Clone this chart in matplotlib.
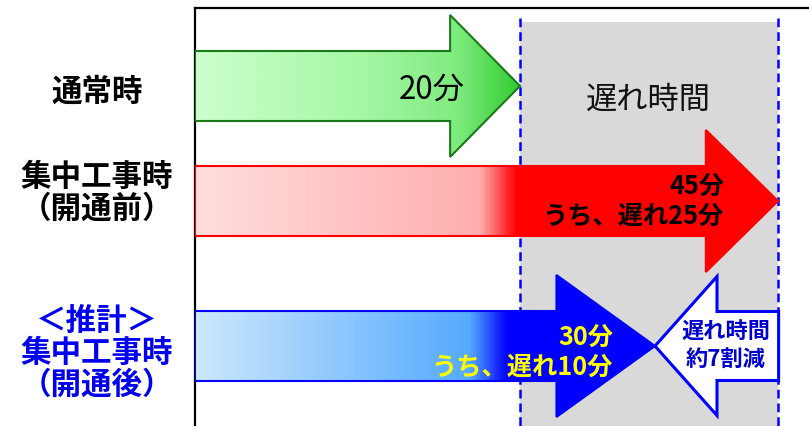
import numpy as np
import matplotlib
matplotlib.use('Agg')
import matplotlib.pyplot as plt
from matplotlib.patches import Polygon
from matplotlib.colors import LinearSegmentedColormap

plt.rcParams['font.family'] = ['Noto Sans CJK JP', 'DejaVu Sans']

# データ
row_labels = ['通常時', '集中工事時\n（開通前）', '＜推計＞\n集中工事時\n（開通後）']
total_min = [20, 45, 30]
delay_min = [0, 25, 10]
base_min = 20
reduction_text = '遅れ時間\n約7割減'

# 模式図なので横軸は等間隔ではない（分 -> ピクセル）
knots_min = [0, 20, 30, 45, 50]
knots_px = [195, 520, 655, 778, 809]

def fwd(x):
    return np.interp(x, knots_min, knots_px)

def inv(x):
    return np.interp(x, knots_px, knots_min)

W, H = 809, 426
fig = plt.figure(figsize=(W / 100, H / 100), dpi=100)
ax = fig.add_axes([195 / W, 0, 614 / W, 418 / H])
ax.set_xscale('function', functions=(fwd, inv))
ax.set_xlim(0, 50)
ax.set_ylim(426, 8)
ax.set_xticks([])
ax.set_yticks([])
ax.minorticks_off()
for s in ['right', 'bottom']:
    ax.spines[s].set_visible(False)
for s in ['top', 'left']:
    ax.spines[s].set_linewidth(1.6)

# 遅れ時間の範囲
ax.fill_between([base_min, total_min[1]], 22, 426, color='#d9d9d9', lw=0, zorder=1)
ax.vlines([base_min, total_min[1]], 18, 426, colors='#0000ff', linestyles=(0, (3.5, 2)),
          lw=1.8, zorder=2)
ax.text(0.739, 100, '遅れ時間', transform=ax.get_yaxis_transform(), ha='center', va='center',
        fontsize=22.5, color='#111111', zorder=3)

yc = [86, 201, 346]
shaft_h = 35
head_h = 71
head_len = [4.3, 8.8, 7.3]
edge_cols = ['#1a7a1a', '#ff0000', '#0000ff']
grads = [
    [(0, '#ccffcc'), (0.5, '#a6f7a6'), (0.8, '#80ec80'), (1, '#33cc33')],
    [(0, '#ffdddd'), (17.5 / 45, '#ffaeae'), (19.7 / 45, '#ff0000'), (1, '#ff0000')],
    [(0, '#cce8fc'), (16.9 / 30, '#55aaff'), (19.2 / 30, '#0000ff'), (1, '#0000ff')],
]

def arrow_verts(x0, tip, base, y, sh, hh):
    return [(x0, y - sh), (base, y - sh), (base, y - hh), (tip, y), (base, y + hh),
            (base, y + sh), (x0, y + sh)]

for i in range(3):
    tip = total_min[i]
    base = tip - head_len[i]
    verts = arrow_verts(0, tip, base, yc[i], shaft_h, head_h)
    poly = Polygon(verts, closed=True, fc='none', ec=edge_cols[i], lw=1.5, zorder=6)
    ax.add_patch(poly)
    cmap = LinearSegmentedColormap.from_list('g%d' % i, grads[i])
    grad = np.linspace(0, 1, 400).reshape(1, -1)
    im = ax.imshow(grad, cmap=cmap, extent=(0, tip, yc[i] + head_h, yc[i] - head_h),
                   aspect='auto', interpolation='bilinear', zorder=5)
    im.set_clip_path(poly)

# 矢印内の文字
ax.annotate('20分', xy=(total_min[0], yc[0]), xytext=(-55, -4), textcoords='offset pixels',
            ha='right', va='center', fontsize=22.5, color='black', zorder=7)
ax.annotate('%d分\nうち、遅れ%d分' % (total_min[1], delay_min[1]), xy=(total_min[1], yc[1]),
            xytext=(-54, 0), textcoords='offset pixels', ha='right', va='center',
            fontsize=18.2, fontweight='bold', color='black', linespacing=1.15, zorder=7)
ax.annotate('%d分\nうち、遅れ%d分' % (total_min[2], delay_min[2]), xy=(total_min[2], yc[2]),
            xytext=(-42, -6), textcoords='offset pixels', ha='right', va='center',
            fontsize=18.2, fontweight='bold', color='#ffff00', linespacing=1.15, zorder=7)

# 削減を示す白抜き矢印
w_verts = arrow_verts(total_min[1] + 0.1, total_min[2], total_min[2] + 7.56, yc[2], 34.5, 69.5)
ax.add_patch(Polygon(w_verts, closed=True, fc='white', ec='#0000ff', lw=2.2, zorder=8))
ax.annotate(reduction_text, xy=(total_min[2], yc[2]), xytext=(71, 0), textcoords='offset pixels',
            ha='center', va='center', fontsize=16, fontweight='bold', color='#0000cc',
            linespacing=1.2, zorder=9)

# 行ラベル
label_y = [92, 193, 353]
label_cols = ['black', 'black', '#0000ee']
for lab, y, c in zip(row_labels, label_y, label_cols):
    fig.text(97 / W, 1 - y / H, lab, ha='center', va='center', fontsize=22,
             fontweight='bold', color=c, linespacing=1.0)

fig.savefig('out.png', dpi=100)
